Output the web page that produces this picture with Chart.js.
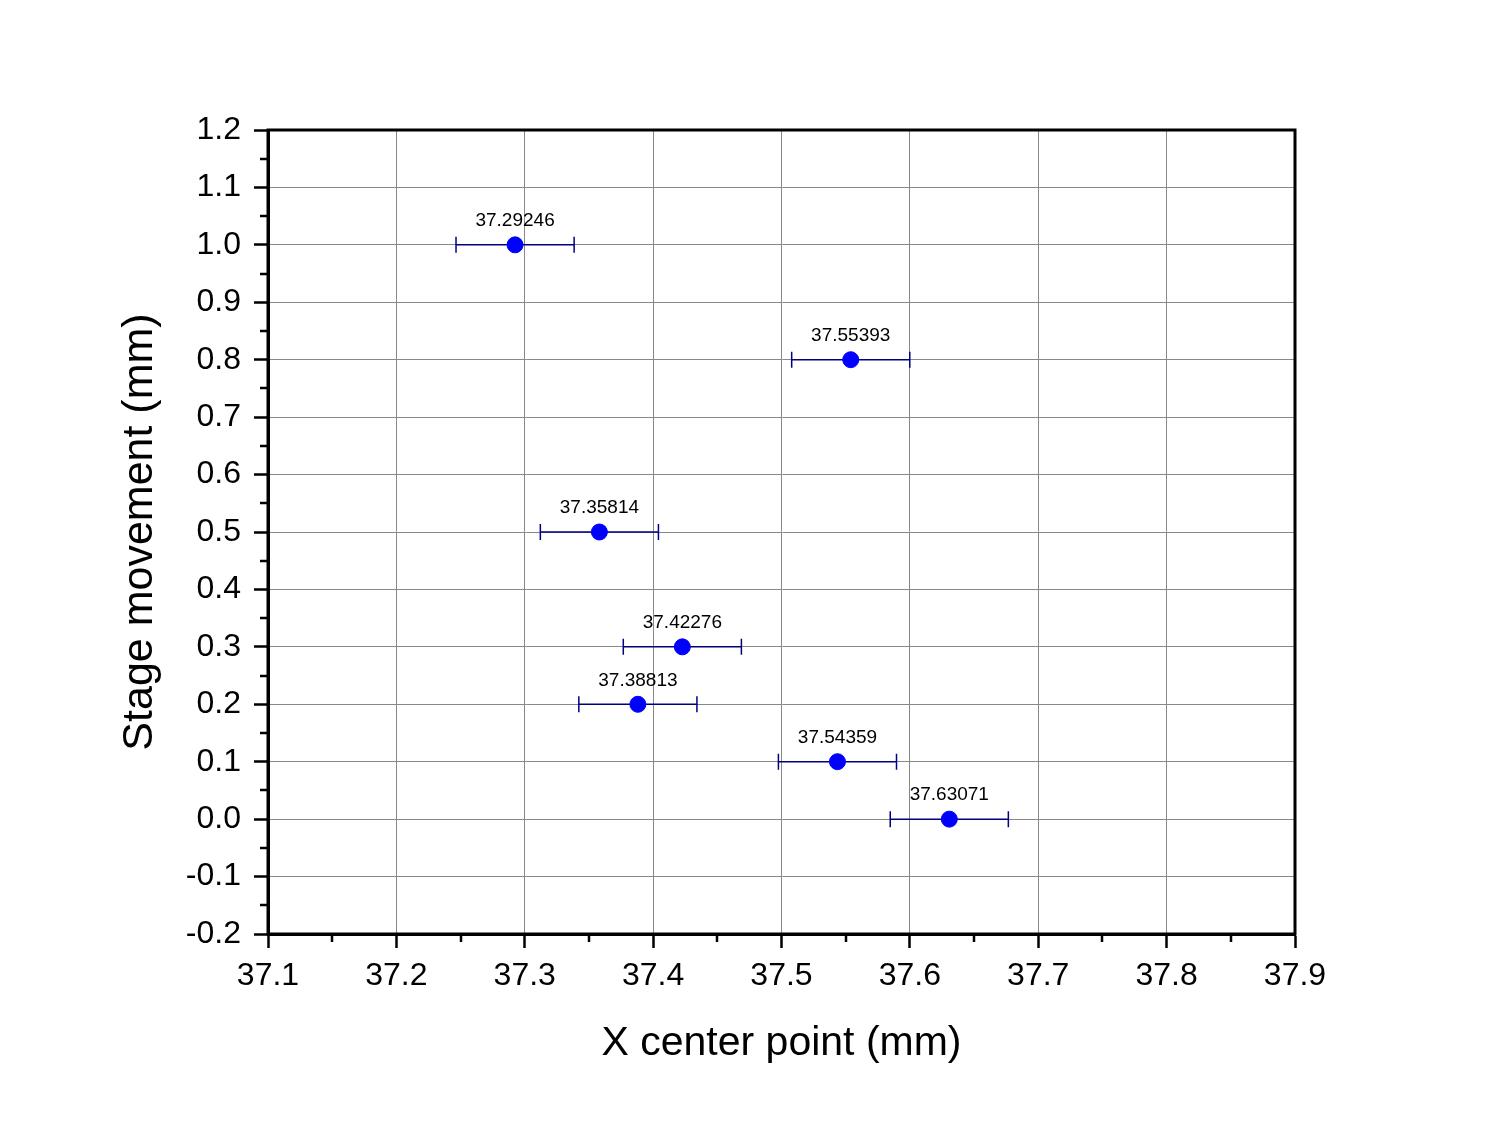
<!DOCTYPE html>
<html>
<head>
<meta charset="utf-8">
<script src="https://cdn.jsdelivr.net/npm/chart.js@4"></script>
<style>
  html, body { margin: 0; padding: 0; background: #fff; }
  #wrap { width: 1510px; height: 1127px; }
</style>
</head>
<body>
<div id="wrap"><canvas id="chart" width="1510" height="1127"></canvas></div>
<script>
// Data
const xCenter = [37.29246, 37.55393, 37.35814, 37.42276, 37.38813, 37.54359, 37.63071];
const stageMove = [1.0, 0.8, 0.5, 0.3, 0.2, 0.1, 0.0];
const xError = [0.046, 0.046, 0.046, 0.046, 0.046, 0.046, 0.046];
const pointLabels = ["37.29246", "37.55393", "37.35814", "37.42276", "37.38813", "37.54359", "37.63071"];

const fontFamily = "'Liberation Sans', Arial, sans-serif";

function fmtTick(v) {
    if (Math.abs(v) < 1e-9) v = 0;
    return v.toFixed(1);
}

// Horizontal error bars with end caps
const errorBars = {
    id: "errorBars",
    beforeDatasetsDraw(chart) {
        const ctx = chart.ctx;
        const xs = chart.scales.x, ys = chart.scales.y;
        ctx.save();
        ctx.strokeStyle = "#000080";
        ctx.lineWidth = 1.5;
        xCenter.forEach((x, i) => {
            const y = ys.getPixelForValue(stageMove[i]);
            const x1 = xs.getPixelForValue(x - xError[i]);
            const x2 = xs.getPixelForValue(x + xError[i]);
            ctx.beginPath();
            ctx.moveTo(x1, y); ctx.lineTo(x2, y);
            ctx.moveTo(x1, y - 8); ctx.lineTo(x1, y + 8);
            ctx.moveTo(x2, y - 8); ctx.lineTo(x2, y + 8);
            ctx.stroke();
        });
        ctx.restore();
    }
};

// Value labels above points, minor ticks and frame
const extras = {
    id: "extras",
    afterDraw(chart) {
        const ctx = chart.ctx;
        const xs = chart.scales.x, ys = chart.scales.y;
        const a = chart.chartArea;
        ctx.save();
        ctx.fillStyle = "#000";
        ctx.font = "19px " + fontFamily;
        ctx.textAlign = "center";
        ctx.textBaseline = "middle";
        xCenter.forEach((x, i) => {
            ctx.fillText(pointLabels[i], xs.getPixelForValue(x), ys.getPixelForValue(stageMove[i]) - 24);
        });

        // minor ticks
        ctx.strokeStyle = "#000";
        ctx.lineWidth = 2.5;
        ctx.beginPath();
        for (let v = -0.15; v < 1.2; v += 0.1) {
            const y = Math.round(ys.getPixelForValue(v));
            ctx.moveTo(a.left, y); ctx.lineTo(a.left - 8, y);
        }
        for (let v = 37.15; v < 37.9; v += 0.1) {
            const x = Math.round(xs.getPixelForValue(v));
            ctx.moveTo(x, a.bottom); ctx.lineTo(x, a.bottom + 8);
        }
        ctx.stroke();

        // frame
        ctx.lineWidth = 3;
        ctx.strokeRect(a.left, a.top, a.right - a.left, a.bottom - a.top);
        ctx.restore();
    }
};

new Chart(document.getElementById("chart"), {
    type: "scatter",
    data: {
        datasets: [{
            data: xCenter.map((x, i) => ({ x: x, y: stageMove[i] })),
            backgroundColor: "#0000ff",
            borderColor: "#0000ff",
            pointRadius: 8,
            pointHoverRadius: 8
        }]
    },
    options: {
        responsive: false,
        animation: false,
        layout: { padding: { left: 114, right: 215, top: 130, bottom: 59 } },
        plugins: { legend: { display: false }, tooltip: { enabled: false } },
        scales: {
            x: {
                type: "linear",
                min: 37.1,
                max: 37.9,
                afterFit: s => { s.height = 134; },
                ticks: {
                    stepSize: 0.1,
                    color: "#000",
                    padding: 9,
                    font: { family: fontFamily, size: 32 },
                    callback: fmtTick
                },
                grid: { color: "#888", lineWidth: 1, tickLength: 14, tickColor: "#000", tickWidth: 2.5 },
                border: { color: "#000", width: 3 },
                title: {
                    display: true,
                    text: "X center point (mm)",
                    color: "#000",
                    padding: 0,
                    font: { family: fontFamily, size: 41 }
                }
            },
            y: {
                type: "linear",
                min: -0.2,
                max: 1.2,
                afterFit: s => { s.width = 154; },
                ticks: {
                    stepSize: 0.1,
                    color: "#000",
                    padding: 13,
                    font: { family: fontFamily, size: 32 },
                    callback: fmtTick
                },
                grid: { color: "#888", lineWidth: 1, tickLength: 14, tickColor: "#000", tickWidth: 2.5 },
                border: { color: "#000", width: 3 },
                title: {
                    display: true,
                    text: "Stage movement (mm)",
                    color: "#000",
                    padding: 0,
                    font: { family: fontFamily, size: 43 }
                }
            }
        }
    },
    plugins: [errorBars, extras]
});
</script>
</body>
</html>
